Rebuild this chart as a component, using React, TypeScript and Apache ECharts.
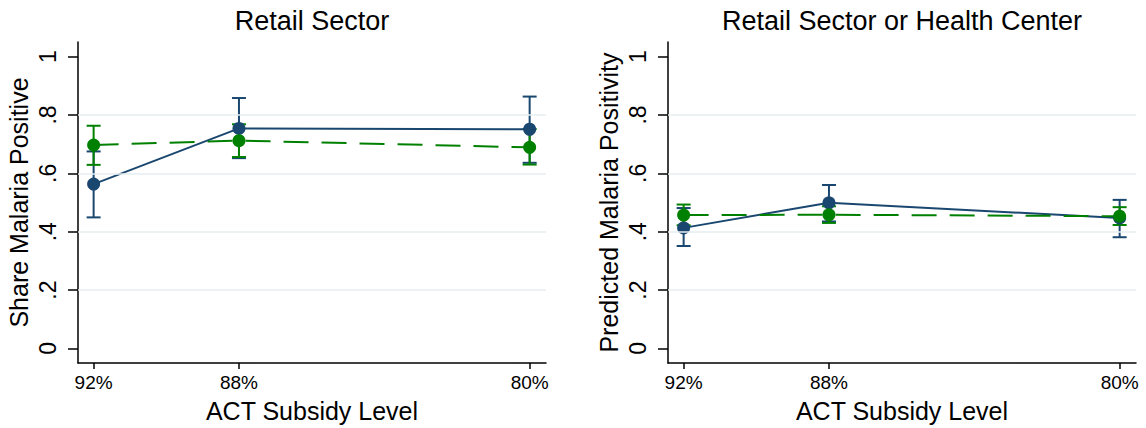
import React, { useEffect, useRef } from "react";
import * as echarts from "echarts";

const levels = [92, 88, 80];
const yTicks = [0, 0.2, 0.4, 0.6, 0.8, 1];
const gridValues = [0.2, 0.4, 0.6, 0.8];
const panelTitles = ["Retail Sector", "Retail Sector or Health Center"];
const yNames = ["Share Malaria Positive", "Predicted Malaria Positivity"];
const xName = "ACT Subsidy Level";

// Left panel: Retail Sector
const retailBlue = [0.563, 0.754, 0.751];
const retailBlueLo = [0.449, 0.652, 0.636];
const retailBlueHi = [0.675, 0.858, 0.863];
const retailGreen = [0.697, 0.712, 0.689];
const retailGreenLo = [0.629, 0.656, 0.630];
const retailGreenHi = [0.763, 0.768, 0.752];

// Right panel: Retail Sector or Health Center
const bothBlue = [0.413, 0.499, 0.447];
const bothBlueLo = [0.351, 0.435, 0.381];
const bothBlueHi = [0.481, 0.560, 0.509];
const bothGreen = [0.457, 0.458, 0.453];
const bothGreenLo = [0.422, 0.430, 0.423];
const bothGreenHi = [0.493, 0.487, 0.484];

const BLUE = "#1a476f";
const GREEN = "#008000";
const FONT = "'Liberation Sans', Arial, Helvetica, sans-serif";

function ciSeries(idx: number, lo: number[], hi: number[], color: string, z: number) {
  return {
    type: "custom",
    xAxisIndex: idx,
    yAxisIndex: idx,
    z,
    silent: true,
    data: levels.map((x, i) => [x, lo[i], hi[i]]),
    encode: { x: 0, y: [1, 2] },
    renderItem: (params: any, api: any) => {
      const x = api.value(0);
      const pLo = api.coord([x, api.value(1)]);
      const pHi = api.coord([x, api.value(2)]);
      const hw = 7;
      const st = { stroke: color, lineWidth: 2 };
      return {
        type: "group",
        children: [
          { type: "line", shape: { x1: pLo[0], y1: pLo[1], x2: pHi[0], y2: pHi[1] }, style: st },
          { type: "line", shape: { x1: pLo[0] - hw, y1: pLo[1], x2: pLo[0] + hw, y2: pLo[1] }, style: st },
          { type: "line", shape: { x1: pHi[0] - hw, y1: pHi[1], x2: pHi[0] + hw, y2: pHi[1] }, style: st },
        ],
      };
    },
  };
}

function lineSeries(idx: number, vals: number[], color: string, dashed: boolean, z: number) {
  return {
    type: "line",
    xAxisIndex: idx,
    yAxisIndex: idx,
    z,
    data: levels.map((x, i) => [x, vals[i]]),
    symbol: "circle",
    symbolSize: 13,
    itemStyle: { color },
    lineStyle: { color, width: 2, type: dashed ? [25, 13] : "solid" },
  };
}

function gridSeries(idx: number) {
  return {
    type: "line",
    xAxisIndex: idx,
    yAxisIndex: idx,
    z: 1,
    data: [],
    silent: true,
    markLine: {
      silent: true,
      symbol: "none",
      label: { show: false },
      lineStyle: { color: "#e6eef0", type: "solid", width: 1.5 },
      data: gridValues.map((v) => ({ yAxis: v })),
    },
  };
}

const yFmt = (v: number) => {
  if (v === 0) return "0";
  if (v === 1) return "1";
  return String(Math.round(v * 10) / 10).replace("0.", ".");
};

export default function App() {
  const ref = useRef<HTMLDivElement>(null);
  useEffect(() => {
    if (!ref.current) return;
    const chart = echarts.init(ref.current, undefined, { renderer: "svg" });
    const grids = [
      { left: 78, top: 42, width: 468, height: 321 },
      { left: 668, top: 42, width: 468, height: 321 },
    ];
    const xAxes = [0, 1].map((i) => ({
      type: "value",
      gridIndex: i,
      inverse: true,
      min: 79.55,
      max: 92.43,
      name: xName,
      nameLocation: "middle",
      nameGap: 35,
      nameTextStyle: { fontSize: 25, color: "#000", fontFamily: FONT },
      axisLine: { show: true, onZero: false, lineStyle: { color: "#000", width: 1.5 } },
      axisTick: { show: true, length: 6, customValues: levels, lineStyle: { color: "#000", width: 1.5 } },
      axisLabel: {
        customValues: levels,
        formatter: (v: number) => v + "%",
        fontSize: 19,
        color: "#000",
        margin: 10,
        fontFamily: FONT,
      },
      splitLine: { show: false },
    }));
    const yAxes = [0, 1].map((i) => ({
      type: "value",
      gridIndex: i,
      min: -0.05,
      max: 1.05,
      name: yNames[i],
      nameLocation: "middle",
      nameGap: 47,
      nameTextStyle: { fontSize: 25, color: "#000", fontFamily: FONT },
      axisLine: { show: true, onZero: false, lineStyle: { color: "#000", width: 1.5 } },
      axisTick: { show: true, length: 10, customValues: yTicks, lineStyle: { color: "#000", width: 1.5 } },
      axisLabel: {
        customValues: yTicks,
        rotate: 90,
        formatter: yFmt,
        fontSize: 23,
        color: "#000",
        margin: 19,
        fontFamily: FONT,
      },
      splitLine: { show: false },
    }));
    chart.setOption({
      animation: false,
      backgroundColor: "#fff",
      textStyle: { fontFamily: FONT },
      title: [
        { text: panelTitles[0], left: 312, top: 7, padding: 0, textAlign: "center", textStyle: { fontSize: 27, fontWeight: "normal", color: "#000", fontFamily: FONT } },
        { text: panelTitles[1], left: 902, top: 7, padding: 0, textAlign: "center", textStyle: { fontSize: 27, fontWeight: "normal", color: "#000", fontFamily: FONT } },
      ],
      grid: grids,
      xAxis: xAxes,
      yAxis: yAxes,
      series: [
        gridSeries(0),
        ciSeries(0, retailBlueLo, retailBlueHi, BLUE, 2),
        ciSeries(0, retailGreenLo, retailGreenHi, GREEN, 3),
        lineSeries(0, retailBlue, BLUE, false, 4),
        lineSeries(0, retailGreen, GREEN, true, 5),
        gridSeries(1),
        ciSeries(1, bothBlueLo, bothBlueHi, BLUE, 2),
        ciSeries(1, bothGreenLo, bothGreenHi, GREEN, 3),
        lineSeries(1, bothBlue, BLUE, false, 4),
        lineSeries(1, bothGreen, GREEN, true, 5),
      ],
    });
    return () => chart.dispose();
  }, []);
  return (
    <div
      ref={ref}
      style={{ position: "fixed", left: 0, top: 0, width: 1146, height: 428, background: "#fff" }}
    />
  );
}
